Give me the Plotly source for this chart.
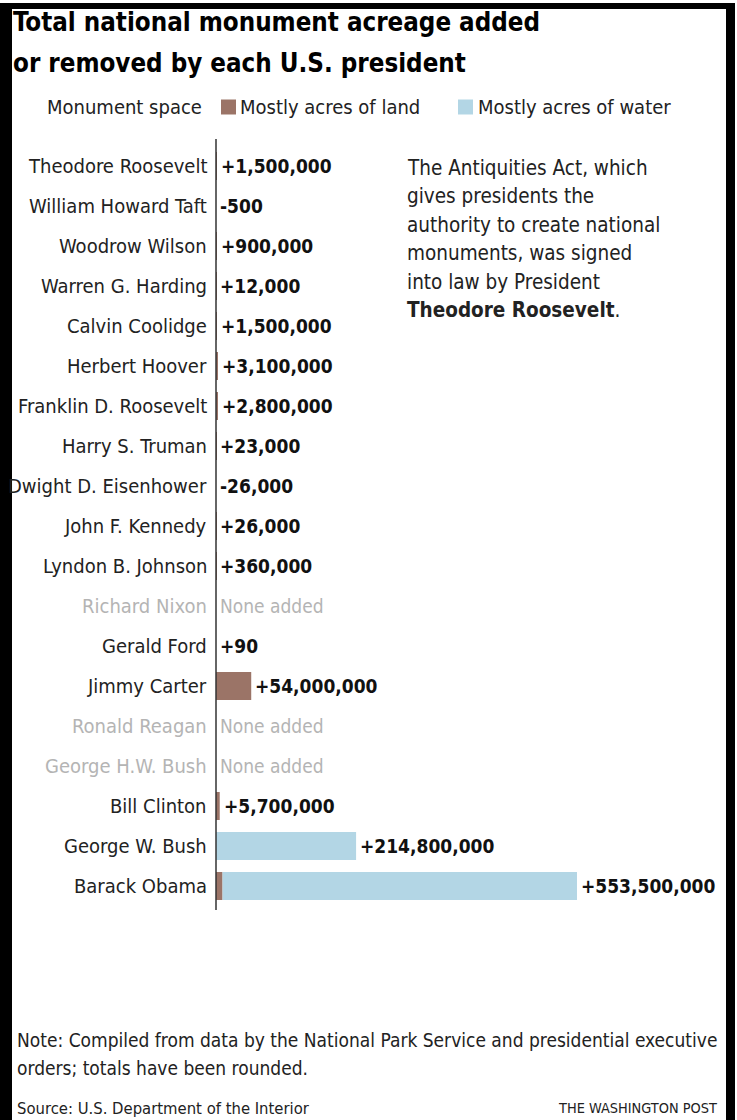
import plotly.graph_objects as go

W, H = 737, 1120

presidents = [
    "Theodore Roosevelt", "William Howard Taft", "Woodrow Wilson", "Warren G. Harding",
    "Calvin Coolidge", "Herbert Hoover", "Franklin D. Roosevelt", "Harry S. Truman",
    "Dwight D. Eisenhower", "John F. Kennedy", "Lyndon B. Johnson", "Richard Nixon",
    "Gerald Ford", "Jimmy Carter", "Ronald Reagan", "George H.W. Bush",
    "Bill Clinton", "George W. Bush", "Barack Obama",
]
land_acres = [1_500_000, -500, 900_000, 12_000, 1_500_000, 3_100_000, 2_800_000, 23_000,
              -26_000, 26_000, 360_000, 0, 90, 54_000_000, 0, 0, 5_700_000, 0, 10_000_000]
water_acres = [0] * 17 + [214_800_000, 543_500_000]
value_labels = ["+1,500,000", "-500", "+900,000", "+12,000", "+1,500,000", "+3,100,000",
                "+2,800,000", "+23,000", "-26,000", "+26,000", "+360,000", "None added",
                "+90", "+54,000,000", "None added", "None added", "+5,700,000",
                "+214,800,000", "+553,500,000"]
none_added = [lbl == "None added" for lbl in value_labels]

LAND = "#9b7467"
WATER = "#b3d6e5"
FONT = "DejaVu Sans Condensed, Liberation Sans Narrow, sans-serif"
TXT = "#222222"
GREY = "#b4b4b4"


def X(px):
    return px / W


def Y(py):
    return 1 - py / H


def paper_text(x, y, text, size, anchor="left", color=TXT):
    return dict(x=X(x), y=Y(y), xref="paper", yref="paper", xanchor=anchor, yanchor="middle",
                text=text, showarrow=False, font=dict(family=FONT, size=size, color=color))


fig = go.Figure()
fig.add_trace(go.Bar(y=presidents, x=land_acres, orientation="h", marker_color=LAND,
                     marker_line_width=0, width=0.7, showlegend=False, hoverinfo="skip"))
fig.add_trace(go.Bar(y=presidents, x=water_acres, orientation="h", marker_color=WATER,
                     marker_line_width=0, width=0.7, showlegend=False, hoverinfo="skip"))

annotations = []
for name, l, w, lbl, none in zip(presidents, land_acres, water_acres, value_labels, none_added):
    total = max(l, 0) + w
    annotations.append(dict(
        x=X(209), xref="paper", y=name, yref="y", xanchor="right", yanchor="middle",
        text=name, showarrow=False,
        font=dict(family=FONT, size=20, color=GREY if none else TXT)))
    annotations.append(dict(
        x=total, xref="x", y=name, yref="y", xanchor="left", yanchor="middle",
        xshift=2, text=lbl if none else f"<b>{lbl}</b>", showarrow=False,
        font=dict(family=FONT, size=19, color=GREY if none else "#111111")))

# title
annotations.append(paper_text(11, 22, "<b>Total national monument acreage added</b>", 25.7, color="#000"))
annotations.append(paper_text(11, 63, "<b>or removed by each U.S. president</b>", 25.7, color="#000"))
# legend
annotations += [
    paper_text(45, 107, "Monument space", 20),
    paper_text(238, 107, "Mostly acres of land", 20),
    paper_text(476, 107, "Mostly acres of water", 20),
]
# side note
note_lines = ["The Antiquities Act, which", "gives presidents the", "authority to create national",
              "monuments, was signed", "into law by President", "<b>Theodore Roosevelt</b>."]
for i, t in enumerate(note_lines):
    annotations.append(paper_text(405, 168 + i * 28.4, t, 20.5))
# footer
annotations += [
    paper_text(15, 1040, "Note: Compiled from data by the National Park Service and presidential executive", 19),
    paper_text(15, 1068, "orders; totals have been rounded.", 19),
    paper_text(15, 1108, "Source: U.S. Department of the Interior", 16.5),
    paper_text(719, 1108, "THE WASHINGTON POST", 14.4, anchor="right"),
]

shapes = [
    # legend swatches
    dict(type="rect", xref="paper", yref="paper", x0=X(221), x1=X(236), y0=Y(99.5), y1=Y(114.5),
         fillcolor=LAND, line_width=0),
    dict(type="rect", xref="paper", yref="paper", x0=X(458), x1=X(473), y0=Y(99.5), y1=Y(114.5),
         fillcolor=WATER, line_width=0),
    # axis line
    dict(type="line", xref="paper", yref="paper", x0=X(216), x1=X(216), y0=Y(139), y1=Y(910),
         line=dict(color="#333", width=1.5)),
    # frame
    dict(type="rect", xref="paper", yref="paper", x0=X(0), x1=X(12), y0=Y(3), y1=Y(1120),
         fillcolor="#000", line_width=0),
    dict(type="rect", xref="paper", yref="paper", x0=X(0), x1=X(735), y0=Y(3), y1=Y(9),
         fillcolor="#000", line_width=0),
    dict(type="rect", xref="paper", yref="paper", x0=X(726), x1=X(735), y0=Y(3), y1=Y(1120),
         fillcolor="#000", line_width=0),
]

fig.update_layout(
    width=W, height=H, margin=dict(l=0, r=0, t=0, b=0),
    paper_bgcolor="white", plot_bgcolor="white", barmode="relative",
    xaxis=dict(domain=[X(216), X(726)], range=[0, 782_000_000], visible=False, fixedrange=True),
    yaxis=dict(domain=[Y(906), Y(146)], autorange="reversed", visible=False,
               categoryorder="array", categoryarray=presidents, fixedrange=True),
    annotations=annotations, shapes=shapes, font=dict(family=FONT),
)

fig.write_html("out.html")
